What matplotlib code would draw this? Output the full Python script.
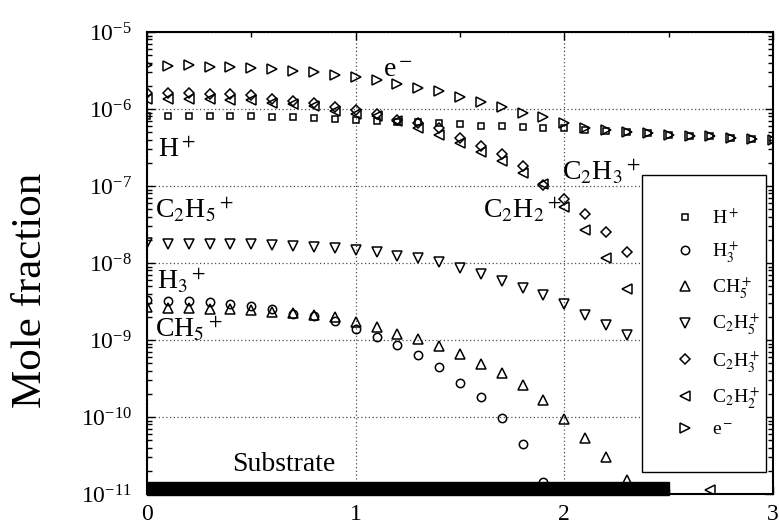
"""Mole fraction of ions along the distance to the substrate."""

import numpy as np
import matplotlib
matplotlib.use('Agg')
import matplotlib.pyplot as plt
from matplotlib.patches import Rectangle
from matplotlib.transforms import blended_transform_factory
from matplotlib.ticker import MultipleLocator, LogLocator, NullFormatter

plt.rcParams['font.family'] = ['Liberation Serif', 'DejaVu Serif']
plt.rcParams['mathtext.fontset'] = 'stix'

# distance axis, one point every 0.1
distance = np.round(np.arange(31) * 0.1, 1)

h_plus = [8.1e-7, 8.1e-7, 8.1e-7, 8.1e-7, 8.1e-7, 8.0e-7, 7.9e-7, 7.8e-7, 7.6e-7, 7.4e-7,
          7.2e-7, 7.0e-7, 6.8e-7, 6.7e-7, 6.6e-7, 6.4e-7, 6.1e-7, 6.0e-7, 5.8e-7, 5.7e-7,
          5.6e-7, 5.4e-7, 5.2e-7, 5.0e-7, 4.85e-7, 4.6e-7, 4.5e-7, 4.4e-7, 4.25e-7, 4.1e-7,
          3.9e-7]
h3_plus = [3.3e-9, 3.24e-9, 3.24e-9, 3.14e-9, 2.96e-9, 2.78e-9, 2.54e-9, 2.19e-9, 2.06e-9, 1.78e-9,
           1.39e-9, 1.09e-9, 8.6e-10, 6.4e-10, 4.4e-10, 2.8e-10, 1.8e-10, 9.8e-11, 4.5e-11, 1.44e-11]
ch5_plus = [2.7e-9, 2.62e-9, 2.62e-9, 2.54e-9, 2.54e-9, 2.47e-9, 2.32e-9, 2.25e-9, 2.1e-9, 2.0e-9,
            1.72e-9, 1.48e-9, 1.2e-9, 1.03e-9, 8.4e-10, 6.6e-10, 4.9e-10, 3.7e-10, 2.6e-10, 1.64e-10,
            9.3e-11, 5.4e-11, 3.05e-11, 1.52e-11]
c2h5_plus = [1.8e-8, 1.75e-8, 1.75e-8, 1.75e-8, 1.75e-8, 1.75e-8, 1.7e-8, 1.65e-8, 1.6e-8, 1.55e-8,
             1.46e-8, 1.37e-8, 1.22e-8, 1.15e-8, 1.02e-8, 8.5e-9, 7.1e-9, 5.9e-9, 4.8e-9, 3.8e-9,
             2.9e-9, 2.1e-9, 1.57e-9, 1.16e-9]
c2h3_plus = [1.62e-6, 1.61e-6, 1.61e-6, 1.58e-6, 1.55e-6, 1.50e-6, 1.36e-6, 1.26e-6, 1.19e-6, 1.06e-6,
             9.8e-7, 8.5e-7, 7.3e-7, 6.5e-7, 5.6e-7, 4.2e-7, 3.3e-7, 2.6e-7, 1.82e-7, 1.03e-7,
             6.8e-8, 4.3e-8, 2.5e-8, 1.41e-8]
# 2.4-2.6 sit behind the legend
c2h2_plus = [1.36e-6, 1.36e-6, 1.36e-6, 1.33e-6, 1.32e-6, 1.29e-6, 1.19e-6, 1.15e-6, 1.08e-6, 9.35e-7,
             8.65e-7, 8.0e-7, 6.9e-7, 5.7e-7, 4.64e-7, 3.65e-7, 2.78e-7, 2.12e-7, 1.48e-7, 1.06e-7,
             5.3e-8, 2.66e-8, 1.15e-8, 4.65e-9, np.nan, np.nan, np.nan, 1.12e-11]
e_minus = [3.7e-6, 3.6e-6, 3.7e-6, 3.5e-6, 3.5e-6, 3.4e-6, 3.3e-6, 3.1e-6, 3.0e-6, 2.75e-6,
           2.6e-6, 2.35e-6, 2.1e-6, 1.85e-6, 1.7e-6, 1.45e-6, 1.25e-6, 1.05e-6, 9.0e-7, 7.8e-7,
           6.5e-7, 5.7e-7, 5.4e-7, 5.1e-7, 4.9e-7, 4.6e-7, 4.5e-7, 4.4e-7, 4.25e-7, 4.1e-7,
           3.9e-7]

series = [
    (h_plus, 's', r'H$^+$', 5),
    (h3_plus, 'o', r'H$_3^+$', 6),
    (ch5_plus, '^', r'CH$_5^+$', 6.5),
    (c2h5_plus, 'v', r'C$_2$H$_5^+$', 6.5),
    (c2h3_plus, 'D', r'C$_2$H$_3^+$', 5),
    (c2h2_plus, '<', r'C$_2$H$_2^+$', 6.5),
    (e_minus, '>', r'e$^-$', 6.5),
]

# in-plot labels (x, y) in data units
annotations = [
    (r'H$^+$', 0.053, 2.4e-7),
    (r'C$_2$H$_5$$^+$', 0.038, 3.8e-8),
    (r'H$_3$$^+$', 0.048, 4.5e-9),
    (r'CH$_5$$^+$', 0.038, 1.07e-9),
    (r'e$^-$', 1.13, 2.6e-6),
    (r'C$_2$H$_3$$^+$', 1.99, 1.2e-7),
    (r'C$_2$H$_2$$^+$', 1.61, 3.8e-8),
]

fig = plt.figure(figsize=(7.79, 5.29), dpi=100)
ax = fig.add_axes([0.1887, 0.0662, 0.8036, 0.8733])

for values, marker, label, size in series:
    ax.plot(distance[:len(values)], values, linestyle='none', marker=marker,
            mfc='none', mec='black', mew=1.1, ms=size, label=label)

ax.set_yscale('log')
ax.set_xlim(0, 3)
ax.set_ylim(1e-11, 1e-5)

ax.xaxis.set_major_locator(MultipleLocator(1))
ax.xaxis.set_minor_locator(MultipleLocator(0.5))
ax.yaxis.set_major_locator(LogLocator(base=10, numticks=10))
ax.yaxis.set_minor_locator(LogLocator(base=10, subs=np.arange(2, 10), numticks=20))
ax.yaxis.set_minor_formatter(NullFormatter())

ax.tick_params(which='both', direction='in', top=True, right=True, width=1.0)
ax.tick_params(which='major', length=6)
ax.tick_params(which='minor', length=3.5)
ax.tick_params(axis='x', labelsize=17, pad=7)
ax.tick_params(axis='y', labelsize=17, pad=11)

for spine in ax.spines.values():
    spine.set_linewidth(1.5)

ax.grid(True, which='major', linestyle=(0, (1, 2)), color='0.3', linewidth=0.9)

ax.set_ylabel('Mole fraction', fontsize=31)
ax.yaxis.set_label_coords(-0.155, 0.44)

for text, x, y in annotations:
    ax.text(x, y, text, fontsize=20, va='baseline', ha='left')

# substrate bar
trans = blended_transform_factory(ax.transData, ax.transAxes)
ax.add_patch(Rectangle((0, -0.003), 2.5, 0.029, transform=trans, color='black',
                       clip_on=False, zorder=5))
ax.text(0.41, 2.0e-11, 'Substrate', fontsize=20, va='baseline', ha='left')

leg = ax.legend(loc='lower left', bbox_to_anchor=(0.791, 0.048, 0.198, 0.647), mode='expand',
                fontsize=14, labelspacing=0.58, borderpad=1.7, handlelength=1.0,
                handletextpad=0.9, borderaxespad=0, fancybox=False, framealpha=1)
leg.get_frame().set_edgecolor('black')
leg.get_frame().set_linewidth(1.0)
leg.set_zorder(10)

fig.savefig('out.png', dpi=100)
